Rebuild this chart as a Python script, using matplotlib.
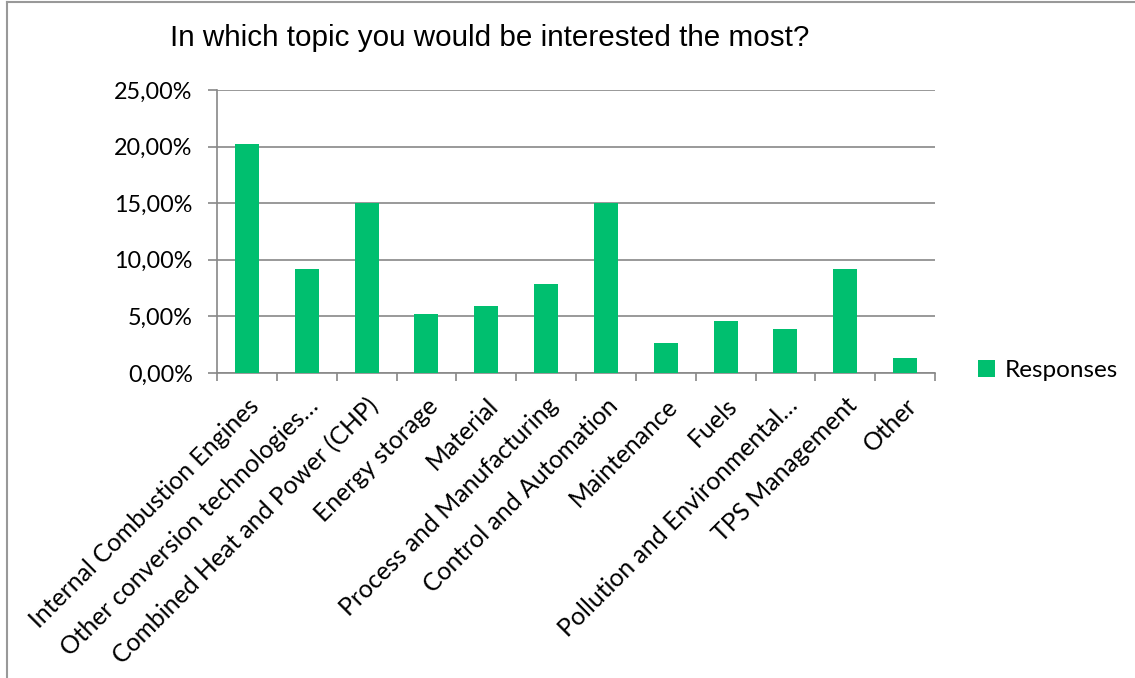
import matplotlib
matplotlib.use("Agg")
import matplotlib.pyplot as plt
from matplotlib.lines import Line2D
from matplotlib.ticker import FuncFormatter, MultipleLocator
import numpy as np

categories = [
    "Internal Combustion Engines",
    "Other conversion technologies…",
    "Combined Heat and Power (CHP)",
    "Energy storage",
    "Material",
    "Process and Manufacturing",
    "Control and Automation",
    "Maintenance",
    "Fuels",
    "Pollution and Environmental…",
    "TPS Management",
    "Other",
]
responses = [20.26, 9.15, 15.03, 5.23, 5.88, 7.84, 15.03, 2.61, 4.58, 3.92, 9.15, 1.31]

bar_color = "#00BF6F"
grid_color = "#888888"
label_font = "Lato"

fig = plt.figure(figsize=(11.35, 6.78), dpi=100)
ax = fig.add_axes([217 / 1135, 1 - 373 / 678, (935 - 217) / 1135, (373 - 90) / 678])

x = np.arange(len(categories))
ax.bar(x, responses, width=0.4, color=bar_color, label="Responses", zorder=3)

ax.set_xlim(-0.5, len(categories) - 0.5)
ax.set_ylim(0, 25)
ax.yaxis.set_major_locator(MultipleLocator(5))
ax.yaxis.set_major_formatter(FuncFormatter(lambda v, p: f"{v:.2f}%".replace(".", ",")))
ax.grid(axis="y", color=grid_color, linewidth=1.2, zorder=0)

# category ticks sit between bars, labels under bars
ax.set_xticks(np.arange(len(categories) + 1) - 0.5)
ax.set_xticklabels([])
ax.set_xticks(x, minor=True)
ax.set_xticklabels(categories, minor=True, rotation=45, ha="right",
                   rotation_mode="anchor", fontsize=17.8, family=label_font)
ax.tick_params(axis="x", which="minor", length=0, pad=15)
ax.tick_params(axis="x", which="major", length=5.5, color=grid_color, width=1.2)
ax.tick_params(axis="y", length=6.5, color=grid_color, width=1.2, labelsize=16.8, pad=11)
for lab in ax.get_yticklabels():
    lab.set_family(label_font)

for s in ["top", "right"]:
    ax.spines[s].set_visible(False)
for s in ["left", "bottom"]:
    ax.spines[s].set_color(grid_color)
    ax.spines[s].set_linewidth(1.2)

fig.text(490 / 1135, 1 - 38 / 678, "In which topic you would be interested the most?",
         ha="center", va="center", fontsize=21.3, family="Liberation Sans")

ax.legend(loc="center left", bbox_to_anchor=(1.03, 0.01), frameon=False,
          prop={"family": label_font, "size": 17.5}, handlelength=0.7, handleheight=0.7,
          handletextpad=0.4)

# outer chart border (only top and left visible in the crop)
fig.add_artist(Line2D([7 / 1135, 7 / 1135], [0, 1 - 2 / 678], color="#999999", linewidth=1.5))
fig.add_artist(Line2D([7 / 1135, 1], [1 - 2 / 678, 1 - 2 / 678], color="#999999", linewidth=1.5))

fig.savefig("out.png", dpi=100, facecolor="white")
